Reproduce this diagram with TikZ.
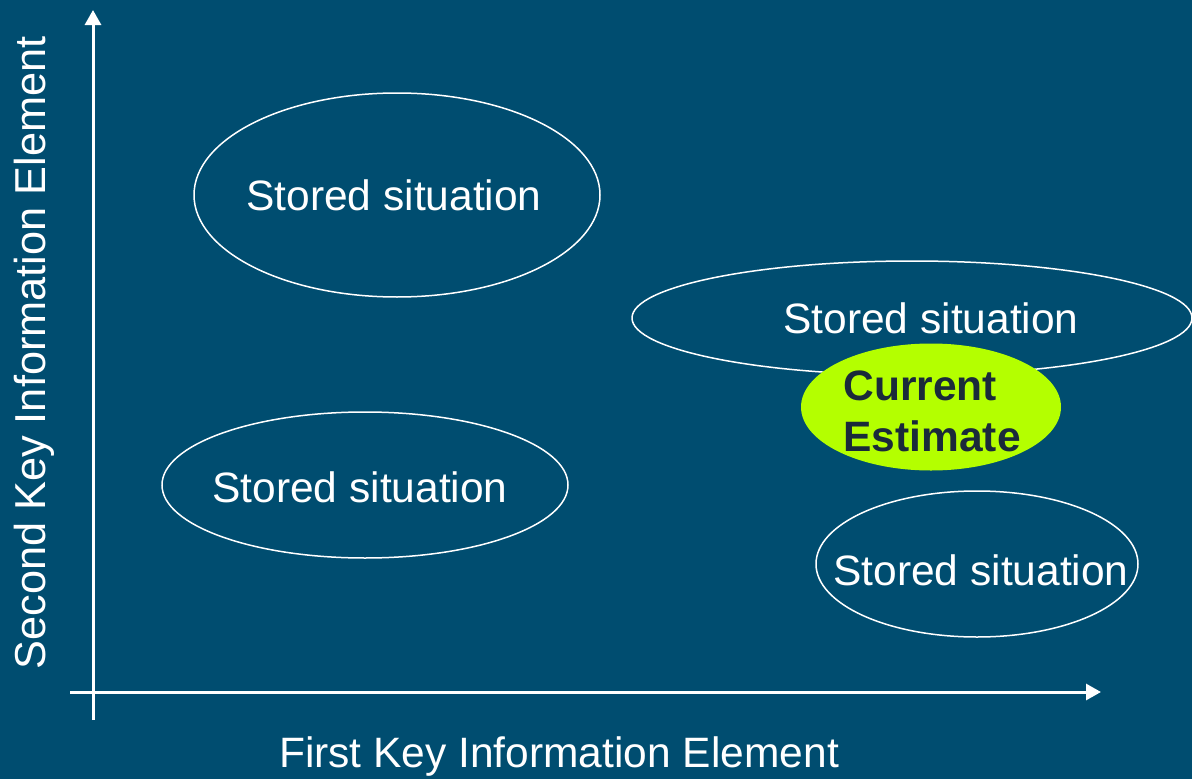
\documentclass[tikz,border=0pt]{standalone}
\usepackage{fontspec}
\setmainfont{Liberation Sans}
\usetikzlibrary{shapes.geometric,arrows.meta}
\definecolor{bgblue}{RGB}{0,77,112}
\definecolor{limegreen}{RGB}{180,255,0}
\definecolor{darkink}{RGB}{26,42,58}
\tikzset{
  big/.style={font=\fontsize{42.5}{51}\selectfont},
  % ellipse with its caption; the two arguments nudge the caption
  situ/.style 2 args={ellipse, draw=white, line width=1.5pt, inner sep=0pt,
    label={[big, text=white, xshift=#1, yshift=#2]center:Stored situation}},
  axis/.style={draw=white, line width=3pt, -{Triangle[width=16pt,length=15pt]}},
}
\begin{document}
\begin{tikzpicture}[x=1pt,y=-1pt]
  \useasboundingbox[fill=bgblue] (0,0) rectangle (1192,779);
  % axes
  \coordinate (yo) at (93,720);
  \coordinate (yt) at (93,10);
  \coordinate (xo) at (70,692);
  \coordinate (xt) at (1101,692);
  \draw[axis] (yo) -- (yt);
  \draw[axis] (xo) -- (xt);
  % axis titles
  \node[big, text=white] (xlab) at (559,757) {First Key Information Element};
  \node[font=\fontsize{43.3}{52}\selectfont, text=white, rotate=90] (ylab) at (34,353) {Second Key Information Element};
  % stored situations
  \node[situ={-3pt}{0pt}, minimum width=406pt, minimum height=204pt] (s1) at (397,195) {};
  \node[situ={19pt}{0pt}, minimum width=560pt, minimum height=114pt] (s2) at (912,318) {};
  \node[situ={-5pt}{-2pt}, minimum width=406pt, minimum height=146pt] (s3) at (365,485) {};
  \node[situ={4pt}{-6pt}, minimum width=322pt, minimum height=146pt] (s4) at (977,564) {};
  % current estimate
  \node[ellipse, fill=limegreen, inner sep=0pt, minimum width=260pt, minimum height=127pt] (ce) at (931,407) {};
  \node[font=\fontsize{42.5}{51}\selectfont\bfseries, text=darkink, align=left, anchor=west] (cet) at (840,411) {Current\\Estimate};
\end{tikzpicture}
\end{document}
